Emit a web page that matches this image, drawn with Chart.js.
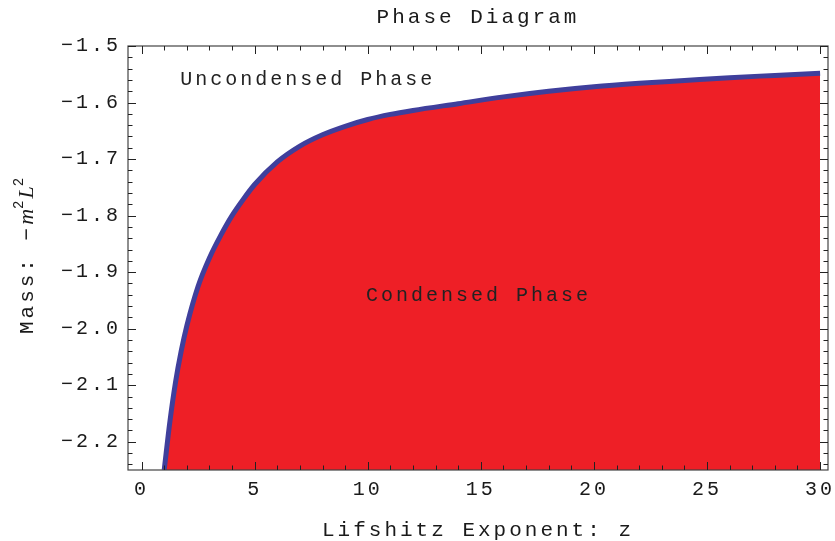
<!DOCTYPE html>
<html>
<head>
<meta charset="utf-8">
<style>
html, body { margin: 0; padding: 0; background: #fff; }
#wrap { width: 835px; height: 541px; position: relative; }
</style>
</head>
<body>
<div id="wrap"><canvas id="phaseChart"></canvas></div>

<script src="https://cdn.jsdelivr.net/npm/chart.js"></script>
<script>
// phase boundary
const zValues = [1, 1.25, 1.5, 1.75, 2, 2.5, 3, 3.5, 4, 4.5, 5, 6, 7, 8, 9, 10, 11, 12, 14, 16, 18, 20, 22, 24, 26, 28, 30];
const massValues = [-2.25, -2.165, -2.095, -2.04, -1.995, -1.925, -1.875, -1.835, -1.8, -1.771, -1.745, -1.705, -1.677, -1.657, -1.642, -1.63, -1.621, -1.614, -1.602, -1.59, -1.58, -1.572, -1.566, -1.561, -1.556, -1.552, -1.548];

const xMajorTicks = [0, 5, 10, 15, 20, 25, 30];
const xMinorTicks = [1, 2, 3, 4, 6, 7, 8, 9, 11, 12, 13, 14, 16, 17, 18, 19, 21, 22, 23, 24, 26, 27, 28, 29];
const yMajorTicks = [-2.2, -2.1, -2.0, -1.9, -1.8, -1.7, -1.6, -1.5];
const yMinorTicks = [-2.24, -2.22, -2.18, -2.16, -2.14, -2.12, -2.08, -2.06, -2.04, -2.02,
                     -1.98, -1.96, -1.94, -1.92, -1.88, -1.86, -1.84, -1.82, -1.78, -1.76,
                     -1.74, -1.72, -1.68, -1.66, -1.64, -1.62, -1.58, -1.56, -1.54, -1.52];

const regionLabels = ['Uncondensed Phase', 'Condensed Phase'];
const regionZ = [7.35, 14.9];
const regionMass = [-1.56, -1.942];

const MONO = '"Liberation Mono", "DejaVu Sans Mono", monospace';
const TEXT = '#1a1a1a';

// letter spacing for the wide mathematica-style monospace text
const spacingPlugin = {
    id: 'spacing',
    beforeDraw(chart) {
        chart.ctx.letterSpacing = '3px';
    }
};

// box frame with inward ticks on all four sides
const framePlugin = {
    id: 'frame',
    afterDatasetsDraw(chart) {
        const ctx = chart.ctx;
        const a = chart.chartArea;
        const xs = chart.scales.x, ys = chart.scales.y;
        ctx.save();
        ctx.strokeStyle = '#444';
        ctx.lineWidth = 1.2;
        ctx.strokeRect(a.left, a.top, a.right - a.left, a.bottom - a.top);

        ctx.strokeStyle = '#222';
        ctx.lineWidth = 1;
        ctx.beginPath();
        const xTick = (v, len) => {
            const px = Math.round(xs.getPixelForValue(v)) + 0.5;
            ctx.moveTo(px, a.bottom); ctx.lineTo(px, a.bottom - len);
            ctx.moveTo(px, a.top); ctx.lineTo(px, a.top + len);
        };
        const yTick = (v, len) => {
            const py = Math.round(ys.getPixelForValue(v)) + 0.5;
            ctx.moveTo(a.left, py); ctx.lineTo(a.left + len, py);
            ctx.moveTo(a.right, py); ctx.lineTo(a.right - len, py);
        };
        xMajorTicks.forEach(v => xTick(v, 8));
        xMinorTicks.forEach(v => xTick(v, 4.5));
        yMajorTicks.forEach(v => yTick(v, 8));
        yMinorTicks.forEach(v => yTick(v, 4.5));
        ctx.stroke();

        // region labels
        ctx.fillStyle = '#222';
        ctx.font = '20px ' + MONO;
        ctx.textAlign = 'center';
        ctx.textBaseline = 'middle';
        regionLabels.forEach((t, i) => {
            ctx.fillText(t, xs.getPixelForValue(regionZ[i]), ys.getPixelForValue(regionMass[i]));
        });
        ctx.restore();
    },
    afterDraw(chart) {
        // y axis title: Mass: -m^2 L^2 with italic symbols
        const ctx = chart.ctx;
        const a = chart.chartArea;
        const parts = [
            { t: 'Mass: \u2212', f: '21px ' + MONO, dy: 0, sp: '3px' },
            { t: 'm', f: 'italic 22px "Liberation Serif", serif', dy: 0, sp: '0px' },
            { t: '2', f: '14px ' + MONO, dy: -10, sp: '2px' },
            { t: 'L', f: 'italic 22px "Liberation Serif", serif', dy: 0, sp: '0px' },
            { t: '2', f: '14px ' + MONO, dy: -10, sp: '0px' }
        ];
        ctx.save();
        let total = 0;
        parts.forEach(p => {
            ctx.font = p.f;
            ctx.letterSpacing = p.sp;
            p.w = ctx.measureText(p.t).width;
            total += p.w;
        });
        ctx.translate(33, (a.top + a.bottom) / 2 - 2);
        ctx.rotate(-Math.PI / 2);
        ctx.fillStyle = TEXT;
        ctx.textAlign = 'left';
        ctx.textBaseline = 'alphabetic';
        let x = -total / 2;
        parts.forEach(p => {
            ctx.font = p.f;
            ctx.letterSpacing = p.sp;
            ctx.fillText(p.t, x, p.dy);
            x += p.w;
        });
        ctx.restore();
    }
};

const points = zValues.map((z, i) => ({ x: z, y: massValues[i] }));

new Chart(document.getElementById('phaseChart'), {
    type: 'line',
    data: {
        datasets: [{
            label: 'phase boundary',
            data: points,
            borderColor: '#3f3f9c',
            backgroundColor: '#ee1f26',
            borderWidth: 5,
            pointRadius: 0,
            cubicInterpolationMode: 'monotone',
            fill: 'start'
        }]
    },
    options: {
        responsive: true,
        maintainAspectRatio: false,
        animation: false,
        layout: { padding: { top: 0, right: 7, bottom: 0, left: 0 } },
        plugins: {
            legend: { display: false },
            tooltip: { enabled: false },
            title: {
                display: true,
                fullSize: false,
                text: 'Phase Diagram',
                color: TEXT,
                font: { family: MONO, size: 21, weight: 'normal', lineHeight: 1.2 },
                padding: { top: 5, bottom: 15.8 }
            }
        },
        scales: {
            x: {
                type: 'linear',
                min: -0.6,
                max: 30.35,
                grid: { display: false, drawTicks: false },
                border: { display: false },
                ticks: {
                    color: TEXT,
                    font: { family: MONO, size: 20 },
                    padding: 8,
                    maxRotation: 0,
                    autoSkip: false
                },
                title: {
                    display: true,
                    text: 'Lifshitz Exponent: z',
                    color: TEXT,
                    font: { family: MONO, size: 21, lineHeight: 1 },
                    padding: 0
                },
                afterBuildTicks(scale) {
                    scale.ticks = xMajorTicks.map(v => ({ value: v }));
                },
                afterFit(scale) {
                    scale.height = 71;
                    scale.paddingLeft = 0;
                    scale.paddingRight = 0;
                }
            },
            y: {
                min: -2.25,
                max: -1.5,
                grid: { display: false, drawTicks: false },
                border: { display: false },
                ticks: {
                    color: TEXT,
                    font: { family: MONO, size: 20 },
                    padding: 7,
                    callback: v => '\u2212' + Math.abs(v).toFixed(1)
                },
                afterBuildTicks(scale) {
                    scale.ticks = yMajorTicks.map(v => ({ value: v }));
                },
                afterFit(scale) {
                    scale.width = 128;
                    scale.paddingTop = 0;
                    scale.paddingBottom = 0;
                }
            }
        }
    },
    plugins: [spacingPlugin, framePlugin]
});
</script>
</body>
</html>
